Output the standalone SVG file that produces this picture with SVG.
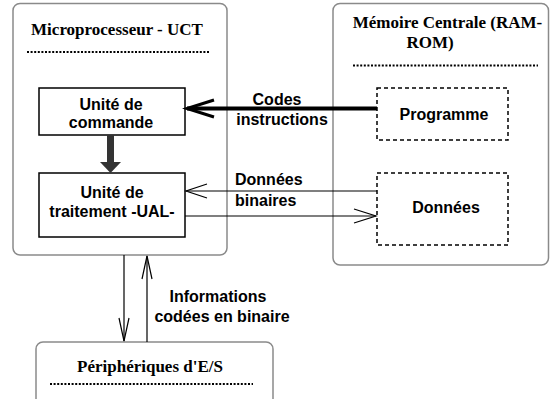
<svg xmlns="http://www.w3.org/2000/svg" width="551" height="399" viewBox="0 0 551 399">
<style>
.frame{fill:#fff;stroke:#8a8a8a;stroke-width:1.5}
.box{fill:#fff;stroke:#000;stroke-width:1.5}
.dbox{fill:#fff;stroke:#000;stroke-width:1.5;stroke-dasharray:4 3}
.dots{stroke:#000;stroke-width:2;stroke-dasharray:2 1.6}
.title{font-family:"Liberation Serif","Times New Roman",serif;font-weight:bold;font-size:17px;fill:#000}
.lbl{font-family:"Liberation Sans",Arial,sans-serif;font-weight:bold;font-size:16px;fill:#000}
.ln{stroke:#000;stroke-width:1.2;fill:none}
.head{stroke:#000;fill:none}
</style>
<rect width="551" height="399" fill="#fff"/>
<g id="microprocesseur">
<rect class="frame" x="13" y="3.5" width="214" height="251.5" rx="7"/>
<text class="title" x="117" y="35" text-anchor="middle">Microprocesseur - UCT</text>
<line class="dots" x1="27" y1="52" x2="209" y2="52"/>
</g>
<g id="memoire">
<rect class="frame" x="333" y="3.5" width="215.5" height="261.5" rx="7"/>
<text class="title" x="447.5" y="28" text-anchor="middle">Mémoire Centrale (RAM-</text>
<text class="title" x="430" y="48" text-anchor="middle">ROM)</text>
<line class="dots" x1="353" y1="65.5" x2="538" y2="65.5"/>
</g>
<g id="peripheriques">
<rect class="frame" x="36" y="342" width="237" height="70" rx="7"/>
<text class="title" x="150" y="372" text-anchor="middle">Périphériques d'E/S</text>
<line class="dots" x1="50" y1="384" x2="253" y2="384"/>
</g>
<g id="commande">
<rect class="box" x="39" y="88" width="146" height="47"/>
<text class="lbl" x="111" y="110" text-anchor="middle">Unité de</text>
<text class="lbl" x="111" y="128" text-anchor="middle">commande</text>
</g>
<g id="traitement">
<rect class="box" x="39" y="173" width="146" height="64"/>
<text class="lbl" x="112" y="198" text-anchor="middle">Unité de</text>
<text class="lbl" x="112" y="217" text-anchor="middle">traitement -UAL-</text>
</g>
<g id="programme">
<rect class="dbox" x="377" y="88" width="131" height="52"/>
<text class="lbl" x="444" y="120" text-anchor="middle">Programme</text>
</g>
<g id="donnees">
<rect class="dbox" x="377" y="173" width="131" height="72"/>
<text class="lbl" x="446" y="213" text-anchor="middle">Données</text>
</g>
<g id="connectors">
<!-- codes instructions -->
<line x1="377" y1="108.5" x2="187" y2="108.5" stroke="#000" stroke-width="4"/>
<polyline class="head" stroke-width="3" points="214,100 187,108.5 214,117"/>
<text class="lbl" x="277" y="105" text-anchor="middle">Codes</text>
<text class="lbl" x="282" y="125" text-anchor="middle">instructions</text>
<!-- commande to traitement -->
<rect x="107" y="135" width="7" height="28" fill="#333"/>
<polygon points="100,162 121,162 110.5,173" fill="#333"/>
<!-- données binaires -->
<line class="ln" x1="377" y1="191" x2="186" y2="191"/>
<polyline class="head" stroke-width="1.2" points="207,184 186,191 207,198"/>
<line class="ln" x1="185" y1="216" x2="376" y2="216"/>
<polyline class="head" stroke-width="1.2" points="354,209 376,216 354,223"/>
<text class="lbl" x="235" y="185">Données</text>
<text class="lbl" x="235" y="206">binaires</text>
<!-- vertical -->
<line class="ln" x1="124" y1="255" x2="124" y2="341"/>
<polyline class="head" stroke-width="1.2" points="119,318 124,341 129,318"/>
<line class="ln" x1="147" y1="342" x2="147" y2="256"/>
<polyline class="head" stroke-width="1.2" points="142,279 147,256 152,279"/>
<text class="lbl" x="218" y="302" text-anchor="middle">Informations</text>
<text class="lbl" x="222" y="322" text-anchor="middle">codées en binaire</text>
</g>
</svg>
